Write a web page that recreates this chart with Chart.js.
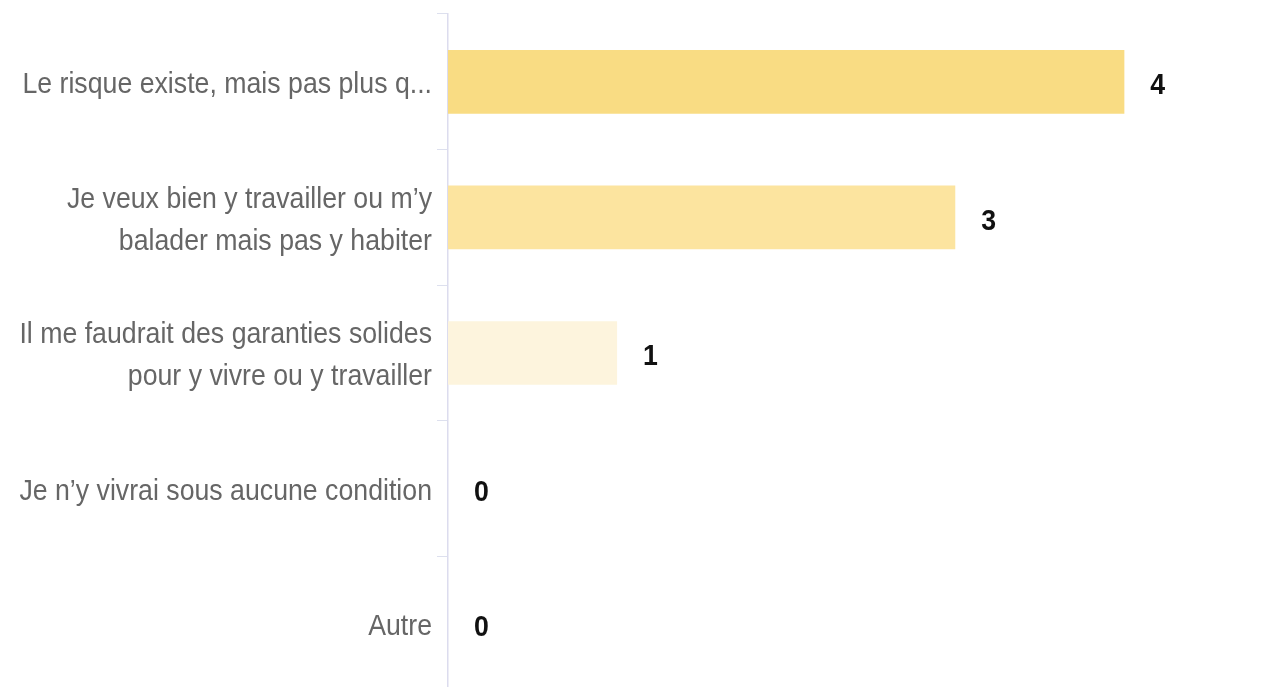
<!DOCTYPE html>
<html>
<head>
<meta charset="utf-8">
<script src="https://cdn.jsdelivr.net/npm/chart.js@4"></script>
<style>
  html, body { margin: 0; padding: 0; background: #fff; overflow: hidden; }
  #wrap { width: 1285px; height: 692px; }
</style>
</head>
<body>
<div id="wrap"><canvas id="answers"></canvas></div>
<script>
const categories = [
    "Le risque existe, mais pas plus q...",
    ["Je veux bien y travailler ou m\u2019y", "balader mais pas y habiter"],
    ["Il me faudrait des garanties solides", "pour y vivre ou y travailler"],
    "Je n\u2019y vivrai sous aucune condition",
    "Autre"
];
const counts = [4, 3, 1, 0, 0];
const barColors = ["#f9dc83", "#fce49f", "#fdf4dd", "#fdf4dd", "#fdf4dd"];
const xMax = 4.95;

const fontName = "'Liberation Sans Narrow', 'Liberation Sans', Arial, sans-serif";
const squeeze = 0.89; // the original labels use a condensed face

// category labels, drawn narrow, right aligned against the tick marks
const narrowLabels = {
    id: "narrowLabels",
    afterDraw(chart) {
        const ctx = chart.ctx;
        const scale = chart.scales.y;
        const right = scale.right - 16;
        ctx.save();
        ctx.font = "30px " + fontName;
        ctx.fillStyle = "#666666";
        ctx.textAlign = "right";
        ctx.textBaseline = "middle";
        categories.forEach((label, i) => {
            const lines = Array.isArray(label) ? label : [label];
            const y = scale.getPixelForTick(i) + 3;
            lines.forEach((line, j) => {
                const dy = (j - (lines.length - 1) / 2) * 42;
                ctx.save();
                ctx.translate(right, y + dy);
                ctx.scale(squeeze, 1);
                ctx.fillText(line, 0, 0);
                ctx.restore();
            });
        });
        ctx.restore();
    }
};

// draws the count just right of each bar end
const valueLabels = {
    id: "valueLabels",
    afterDatasetsDraw(chart) {
        const ctx = chart.ctx;
        const meta = chart.getDatasetMeta(0);
        ctx.save();
        ctx.font = "bold 30px " + fontName;
        ctx.fillStyle = "#111";
        ctx.textAlign = "left";
        ctx.textBaseline = "middle";
        meta.data.forEach((bar, i) => {
            ctx.save();
            ctx.translate(bar.x + 26, bar.y + 4);
            ctx.scale(squeeze, 1);
            ctx.fillText(String(counts[i]), 0, 0);
            ctx.restore();
        });
        ctx.restore();
    }
};

new Chart(document.getElementById("answers"), {
    type: "bar",
    data: {
        labels: categories,
        datasets: [{
            data: counts,
            backgroundColor: barColors,
            borderWidth: 0,
            categoryPercentage: 1,
            barPercentage: 0.47
        }]
    },
    options: {
        indexAxis: "y",
        responsive: true,
        maintainAspectRatio: false,
        animation: false,
        layout: { padding: { top: 14, bottom: 0, left: 0, right: 0 } },
        plugins: {
            legend: { display: false },
            tooltip: { enabled: false }
        },
        scales: {
            x: {
                display: false,
                min: 0,
                max: xMax
            },
            y: {
                afterFit(scale) {
                    scale.width = 448;
                    scale.paddingTop = 0;
                    scale.paddingBottom = 0;
                },
                grid: {
                    drawOnChartArea: false,
                    drawTicks: true,
                    tickLength: 11,
                    color: "#dde0ee",
                    offset: true
                },
                border: { color: "#dcdcee", width: 1.5 },
                ticks: {
                    color: "rgba(0,0,0,0)",
                    padding: 5,
                    font: { family: fontName, size: 30, lineHeight: 1.4 }
                }
            }
        }
    },
    plugins: [valueLabels, narrowLabels]
});
</script>
</body>
</html>
